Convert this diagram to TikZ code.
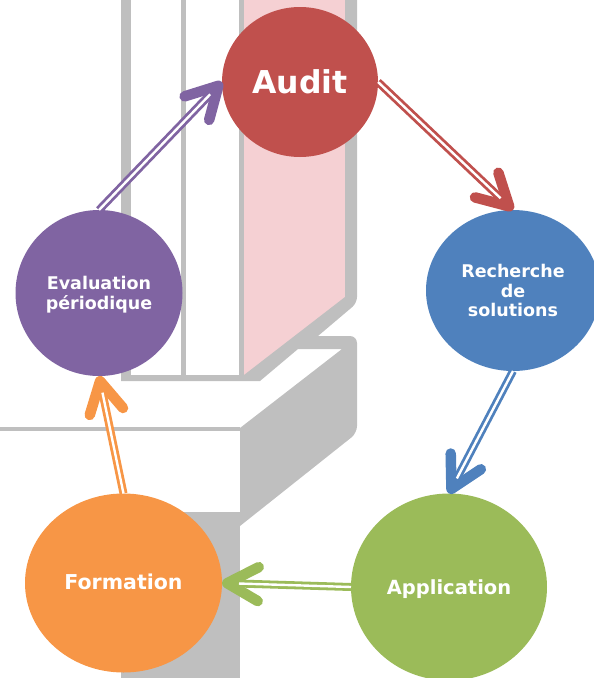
\documentclass[tikz,border=0pt]{standalone}
\usepackage{fontspec}
\setmainfont{DejaVu Sans}
\usetikzlibrary{shapes.geometric,arrows.meta}
\definecolor{cred}{HTML}{C0504D}
\definecolor{cblue}{HTML}{4F81BD}
\definecolor{cgreen}{HTML}{9BBB59}
\definecolor{cpurple}{HTML}{8064A2}
\definecolor{corange}{HTML}{F79646}
\definecolor{wallgray}{HTML}{BFBFBF}
\definecolor{glasspink}{HTML}{F5D0D3}
\tikzset{
  stage/.style={ellipse,inner sep=0pt,outer sep=0pt,text=white,align=center,font=\bfseries},
  flow/.style={line width=8pt,draw=#1,
    -{Straight Barb[length=31pt,width=34pt,line width=10.5pt,round,color=#1]},
    postaction={draw=white,line width=2.4pt,-,shorten >=17pt}},
}
\begin{document}
\begin{tikzpicture}[x=1pt,y=-1pt]
\useasboundingbox (0,0) rectangle (594,678);
% backdrop
\fill[glasspink] (241,0) -- (347,0) -- (347,297) -- (244,378) -- (241,378) -- cycle;
\fill[wallgray] (121,0) rectangle (131,381);
\fill[wallgray] (181,0) rectangle (186,381);
\fill[wallgray] (239,0) rectangle (244,381);
\fill[wallgray] (345,0) -- (357,0) [rounded corners=6pt] -- (357,303) [sharp corners] -- (318,336) [rounded corners=7pt] -- (357,336) -- (357,433) [sharp corners] -- (240,526) -- (240,428) -- (342,349) -- (298,349) -- (260,381) -- (121,381) -- (121,375) -- (244,375) -- (345,297) -- cycle;
\fill[wallgray] (0,427) rectangle (240,431);
\fill[wallgray] (121,512) rectangle (240,678);
% stages
\node[stage,fill=cred,minimum width=156pt,minimum height=150pt,font=\bfseries\fontsize{31.5}{36}\selectfont] (audit) at (300,82) {Audit};
\node[stage,fill=cblue,minimum width=174pt,minimum height=161pt,font=\bfseries\fontsize{17.5}{19.5}\selectfont] (rech) at (513,290.5) {Recherche\\de\\solutions};
\node[stage,fill=cgreen,minimum width=196pt,minimum height=187pt,text height=15pt,text depth=0pt,font=\bfseries\fontsize{19.5}{22}\selectfont] (app) at (449,587) {Application};
\node[stage,fill=corange,minimum width=197pt,minimum height=179pt,text height=15.6pt,text depth=2pt,font=\bfseries\fontsize{20.5}{24}\selectfont] (form) at (123.5,583) {Formation};
\node[stage,fill=cpurple,minimum width=167pt,minimum height=166pt,font=\bfseries\fontsize{17.5}{20}\selectfont] (eval) at (99,293) {\rule{0pt}{17.5pt}Evaluation\\périodique};
% connectors
\draw[flow=cred] (audit.east) -- (rech.north);
\draw[flow=cblue] (rech.south) -- (app.north);
\draw[flow=cgreen] (app.west) -- (form.east);
\draw[flow=corange] (form.north) -- (eval.south);
\draw[flow=cpurple] (eval.north) -- (audit.west);
\end{tikzpicture}
\end{document}
